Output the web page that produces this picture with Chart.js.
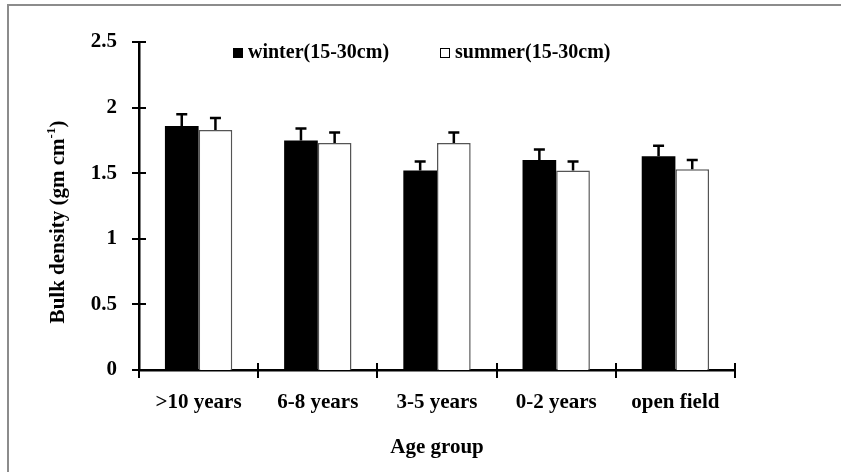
<!DOCTYPE html>
<html>
<head>
<meta charset="utf-8">
<script src="https://cdn.jsdelivr.net/npm/chart.js@4/dist/chart.umd.min.js"></script>
<style>
  html, body { margin: 0; padding: 0; background: #fff; }
  #wrap { width: 841px; height: 472px; position: relative; }
</style>
</head>
<body>
<div id="wrap"><canvas id="chartCanvas" width="841" height="472"></canvas></div>
<script>
// data
const ageGroups = ['>10 years', '6-8 years', '3-5 years', '0-2 years', 'open field'];
const winterValues = [1.86, 1.75, 1.52, 1.60, 1.63];
const winterErrors = [0.09, 0.09, 0.07, 0.08, 0.08];
const summerValues = [1.83, 1.73, 1.73, 1.52, 1.53];
const summerErrors = [0.09, 0.08, 0.08, 0.07, 0.07];
const yTicks = [0, 0.5, 1, 1.5, 2, 2.5];

const fontFamily = '"Liberation Serif", "Times New Roman", serif';

// error bars (only the upper half), cross ticks, legend, y title, frame
let extrasPlugin = {
    id: 'extras',
    afterDatasetsDraw(chart) {
        let c = chart.ctx;
        let y = chart.scales.y;
        c.save();
        c.strokeStyle = '#000';
        c.lineWidth = 2.5;
        chart.data.datasets.forEach((ds, i) => {
            let meta = chart.getDatasetMeta(i);
            meta.data.forEach((bar, j) => {
                let top = y.getPixelForValue(ds.data[j] + ds.errors[j]);
                c.beginPath();
                c.moveTo(bar.x, bar.y);
                c.lineTo(bar.x, top);
                c.moveTo(bar.x - 5.5, top);
                c.lineTo(bar.x + 5.5, top);
                c.stroke();
            });
        });
        c.restore();
    },
    afterDraw(chart) {
        let c = chart.ctx;
        let area = chart.chartArea;
        let y = chart.scales.y;
        c.save();

        // frame of the figure
        c.strokeStyle = '#8c8c8c';
        c.lineWidth = 2;
        c.beginPath();
        c.moveTo(8, 472);
        c.lineTo(8, 5);
        c.lineTo(841, 5);
        c.stroke();

        // ticks crossing both axes
        c.strokeStyle = '#000';
        c.lineWidth = 2;
        c.beginPath();
        yTicks.forEach(v => {
            let py = Math.round(y.getPixelForValue(v));
            c.moveTo(area.left - 7, py);
            c.lineTo(area.left + 7, py);
        });
        let step = (area.right - area.left) / ageGroups.length;
        for (let k = 1; k <= ageGroups.length; k++) {
            let px = Math.round(area.left + k * step);
            c.moveTo(px, area.bottom - 7);
            c.lineTo(px, area.bottom + 8);
        }
        c.moveTo(area.left, area.bottom + 8);
        c.lineTo(area.left, area.bottom);
        c.stroke();

        // legend inside the plot
        c.font = 'bold 20px ' + fontFamily;
        c.textBaseline = 'middle';
        c.fillStyle = '#000';
        let ly = 53;
        c.fillRect(233, ly - 5, 10, 10);
        c.fillText(chart.data.datasets[0].label, 248, ly);
        c.fillStyle = '#fff';
        c.fillRect(440, ly - 5, 10, 10);
        c.strokeStyle = '#000';
        c.lineWidth = 1;
        c.strokeRect(440.5, ly - 4.5, 9, 9);
        c.fillStyle = '#000';
        c.fillText(chart.data.datasets[1].label, 455, ly);

        // y title with superscript
        c.translate(59, 222);
        c.rotate(-Math.PI / 2);
        let main = 'Bulk density (gm cm';
        let sup = '-1';
        let tail = ')';
        c.font = 'bold 21px ' + fontFamily;
        let wMain = c.measureText(main).width;
        let wTail = c.measureText(tail).width;
        c.font = 'bold 13px ' + fontFamily;
        let wSup = c.measureText(sup).width;
        let x0 = -(wMain + wSup + wTail) / 2;
        c.textAlign = 'left';
        c.font = 'bold 21px ' + fontFamily;
        c.fillText(main, x0, 0);
        c.font = 'bold 13px ' + fontFamily;
        c.fillText(sup, x0 + wMain, -7);
        c.font = 'bold 21px ' + fontFamily;
        c.fillText(tail, x0 + wMain + wSup, 0);
        c.restore();
    }
};

let ctx = document.getElementById('chartCanvas').getContext('2d');
let chart = new Chart(ctx, {
    type: 'bar',
    data: {
        labels: ageGroups,
        datasets: [{
            label: 'winter(15-30cm)',
            data: winterValues,
            errors: winterErrors,
            backgroundColor: '#000',
            borderColor: '#000',
            borderWidth: 0
        }, {
            label: 'summer(15-30cm)',
            data: summerValues,
            errors: summerErrors,
            backgroundColor: '#fff',
            borderColor: '#555',
            borderWidth: 1.5,
            borderSkipped: 'bottom'
        }]
    },
    options: {
        responsive: false,
        animation: false,
        events: [],
        layout: { padding: { left: 0, right: 106, top: 42, bottom: 0 } },
        datasets: {
            bar: { categoryPercentage: 0.565, barPercentage: 1 }
        },
        plugins: {
            legend: { display: false },
            tooltip: { enabled: false }
        },
        scales: {
            x: {
                grid: { display: false, drawTicks: false },
                border: { color: '#000', width: 2.5 },
                ticks: {
                    color: '#000',
                    padding: 20,
                    maxRotation: 0,
                    font: { family: fontFamily, size: 21, weight: 'bold' }
                },
                title: {
                    display: true,
                    text: 'Age group',
                    color: '#000',
                    padding: { top: 10, bottom: 12 },
                    font: { family: fontFamily, size: 21, weight: 'bold' }
                },
                afterFit: s => { s.height = 102; }
            },
            y: {
                min: 0,
                max: 2.5,
                afterBuildTicks: s => { s.ticks = yTicks.map(v => ({ value: v })); },
                grid: { display: false, drawTicks: false },
                border: { color: '#000', width: 2.5 },
                ticks: {
                    color: '#000',
                    padding: 22,
                    callback: v => String(v),
                    font: { family: fontFamily, size: 21, weight: 'bold' }
                },
                afterFit: s => { s.width = 139; }
            }
        }
    },
    plugins: [extrasPlugin]
});
</script>
</body>
</html>
